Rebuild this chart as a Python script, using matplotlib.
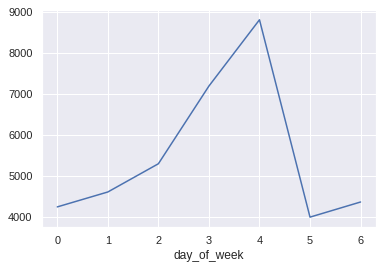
import matplotlib
matplotlib.use("Agg")
import matplotlib.pyplot as plt
import pandas as pd
import seaborn as sns

day_of_week = [0, 1, 2, 3, 4, 5, 6]
counts = [4245, 4610, 5300, 7200, 8820, 3995, 4365]

sns.set_theme()
plt.rcParams['font.family'] = ['Liberation Sans', 'DejaVu Sans']

fig = plt.figure(figsize=(383 / 72, 268 / 72), dpi=72)
ax = fig.add_subplot(111)
series = pd.Series(counts, index=pd.Index(day_of_week, name="day_of_week"))
series.plot(ax=ax)
ax.set_yticks([4000, 5000, 6000, 7000, 8000, 9000])
fig.subplots_adjust(left=0.110, right=0.981, top=0.963, bottom=0.153)
fig.savefig("out.png", dpi=72)
